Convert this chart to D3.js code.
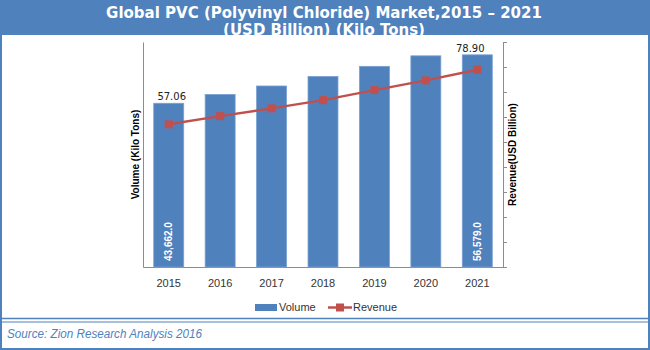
<!DOCTYPE html>
<html><head><meta charset="utf-8">
<script src="https://cdn.jsdelivr.net/npm/d3@7"></script>
<style>html,body{margin:0;padding:0;background:#fff;}svg{display:block;}</style>
</head><body>
<svg id="c" width="650" height="350"></svg>
<script>
const years = ["2015","2016","2017","2018","2019","2020","2021"];
const volume = [43662, 46020, 48270, 50810, 53510, 56310, 56579];
const revenue = [57.06, 60.35, 63.45, 66.75, 70.75, 74.65, 78.90];
const volumeLabels = {"2015":"43,662.0","2021":"56,579.0"};
const revenueLabels = {"2015":"57.06","2021":"78.90"};
const titleLines = ["Global PVC (Polyvinyl Chloride) Market,2015 \u2013 2021","(USD Billion) (Kilo Tons)"];
const source = "Source: Zion Research Analysis 2016";

const blue = "#4f81bd", red = "#c0504d";
const svg = d3.select("#c");
const L = 143, R = 503, T = 42, B = 267;

// frame
svg.append("rect").attr("x",0).attr("y",0).attr("width",650).attr("height",35).attr("fill",blue);
svg.append("rect").attr("x",1).attr("y",1).attr("width",648).attr("height",348).attr("fill","none").attr("stroke",blue).attr("stroke-width",2);
const tg = svg.append("g");
tg.append("defs").append("clipPath").attr("id","tc").append("rect").attr("x",0).attr("y",0).attr("width",650).attr("height",35);
tg.selectAll("text.title").data(titleLines).enter().append("text")
  .attr("clip-path","url(#tc)")
  .attr("x",324).attr("y",(d,i)=> i===0 ? 17.5 : 34.5).attr("text-anchor","middle")
  .attr("fill","#fff").attr("font-family","DejaVu Sans").attr("font-weight","bold").attr("font-size",15)
  .text(d=>d);

const x = d3.scaleBand().domain(years).range([L,R]).paddingInner(0.417).paddingOuter(0.2085);
const yV = d3.scaleLinear().domain([0,60000]).range([B,T]);
const yR = d3.scaleLinear().domain([0,90]).range([B,T]);

// axes
const gl = svg.append("g").attr("transform",`translate(${L},0)`)
  .call(d3.axisLeft(yV).tickValues([]).tickSizeOuter(0));
const gr = svg.append("g").attr("transform",`translate(${R},0)`)
  .call(d3.axisRight(yR).tickValues(d3.range(0,91,10)).tickSize(4).tickFormat("").tickSizeOuter(0));
const gb = svg.append("g").attr("transform",`translate(0,${B})`)
  .call(d3.axisBottom(x).tickSize(0).tickPadding(12));
[gl,gr,gb].forEach(g=>{g.selectAll("path,line").attr("stroke","#8c8c8c");});
gb.selectAll("text").attr("font-family","Liberation Sans").attr("font-size",11).attr("fill","#333");

// bars
svg.selectAll("rect.bar").data(years).enter().append("rect")
  .attr("x",d=>x(d)).attr("width",x.bandwidth())
  .attr("y",(d,i)=>yV(volume[i])).attr("height",(d,i)=>B-yV(volume[i]))
  .attr("fill",blue).attr("stroke","#7aa1d2").attr("stroke-width",0.8);

// rotated volume labels
svg.selectAll("text.vl").data(years.filter(d=>volumeLabels[d])).enter().append("text")
  .attr("transform",d=>`translate(${x(d)+x.bandwidth()/2+3.5},${B-6}) rotate(-90)`)
  .attr("fill","#fff").attr("font-family","Liberation Sans").attr("font-weight","bold").attr("font-size",10)
  .text(d=>volumeLabels[d]);

// revenue line
const line = d3.line().x((d,i)=>x(years[i])+x.bandwidth()/2).y(d=>yR(d));
svg.append("path").datum(revenue).attr("d",line).attr("fill","none").attr("stroke",red).attr("stroke-width",2.5);
svg.selectAll("rect.mk").data(revenue).enter().append("rect")
  .attr("x",(d,i)=>x(years[i])+x.bandwidth()/2-4).attr("y",d=>yR(d)-4)
  .attr("width",8).attr("height",8).attr("fill",red);

// revenue labels above bars
const lblOff = {"2015":3,"2021":-7};
svg.selectAll("text.rl").data(years.filter(d=>revenueLabels[d])).enter().append("text")
  .attr("x",d=>x(d)+x.bandwidth()/2+lblOff[d]).attr("y",d=>yV(volume[years.indexOf(d)])-3)
  .attr("text-anchor","middle").attr("font-family","DejaVu Sans").attr("font-size",10).attr("fill","#222")
  .text(d=>revenueLabels[d]);

// axis titles
svg.append("text").attr("transform",`translate(139,${(T+B)/2}) rotate(-90)`).attr("text-anchor","middle")
  .attr("font-family","Liberation Sans").attr("font-weight","bold").attr("font-size",10).attr("fill","#000")
  .text("Volume (Kilo Tons)");
svg.append("text").attr("transform",`translate(516,${(T+B)/2}) rotate(-90)`).attr("text-anchor","middle")
  .attr("font-family","Liberation Sans").attr("font-weight","bold").attr("font-size",10).attr("fill","#000")
  .text("Revenue(USD Billion)");

// legend
const lg = svg.append("g");
lg.append("rect").attr("x",255).attr("y",304).attr("width",22).attr("height",7).attr("fill",blue);
lg.append("text").attr("x",279).attr("y",311).attr("font-family","Liberation Sans").attr("font-size",11).attr("fill","#333").text("Volume");
lg.append("line").attr("x1",328).attr("x2",352).attr("y1",307.5).attr("y2",307.5).attr("stroke",red).attr("stroke-width",2.5);
lg.append("rect").attr("x",336).attr("y",303.5).attr("width",8).attr("height",8).attr("fill",red);
lg.append("text").attr("x",353).attr("y",311).attr("font-family","Liberation Sans").attr("font-size",11).attr("fill","#333").text("Revenue");

// separator + source
svg.append("line").attr("x1",1).attr("x2",649).attr("y1",318.5).attr("y2",318.5).attr("stroke",blue).attr("stroke-width",1.5);
svg.append("line").attr("x1",1).attr("x2",649).attr("y1",322).attr("y2",322).attr("stroke",blue).attr("stroke-width",1);
svg.append("text").attr("x",7).attr("y",338).attr("font-family","Liberation Sans").attr("font-style","italic")
  .attr("font-size",12.5).attr("textLength",195).attr("lengthAdjust","spacingAndGlyphs")
  .attr("fill","#4f81bd").text(source);
</script>
</body></html>
